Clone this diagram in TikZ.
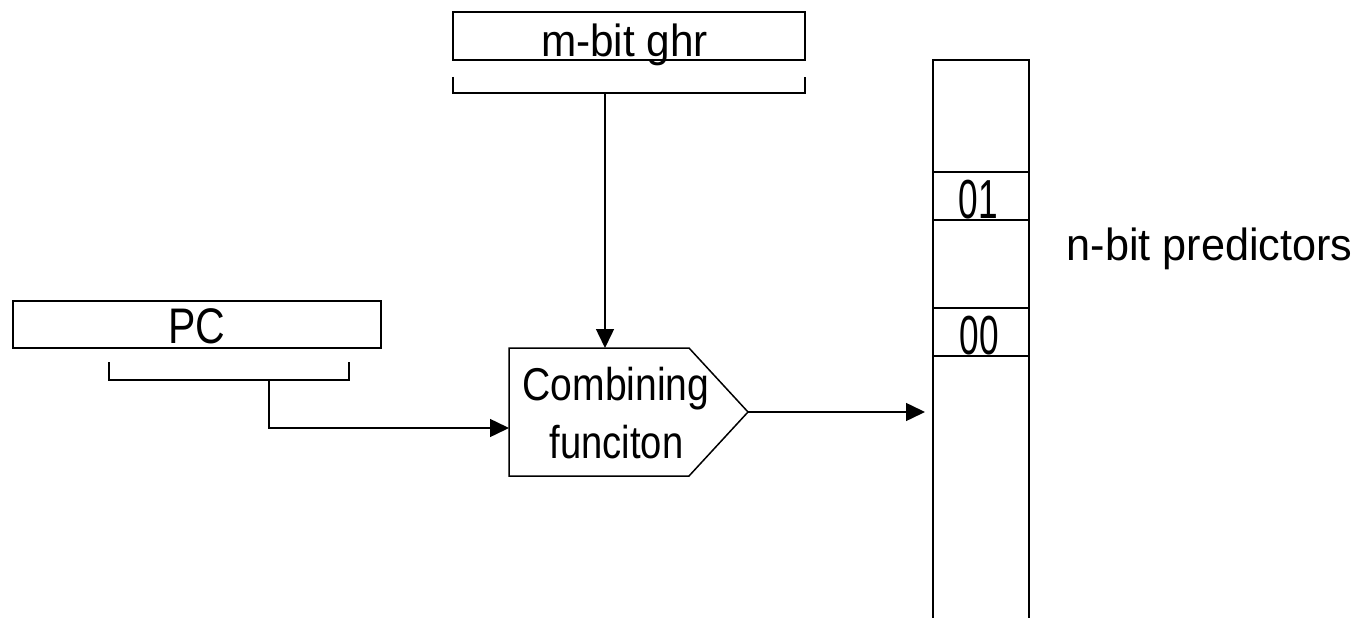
\documentclass[tikz,border=0pt]{standalone}
\usepackage{fontspec}
\setmainfont{Liberation Sans}
\usetikzlibrary{arrows.meta}
% size, horizontal squeeze, text
\newcommand{\lbl}[3]{\fontsize{#1}{#1}\selectfont\scalebox{#2}[1]{#3}}
\begin{document}
\begin{tikzpicture}[x=1pt,y=-1pt,line width=1.5pt,
  box/.style={draw,rectangle,inner sep=0pt},
  txt/.style={inner sep=0pt,anchor=base},
  arr/.style={-{Triangle[length=19pt,width=18pt]}}]
\useasboundingbox (0,0) rectangle (1358,618);

% global history register
\node[box,minimum width=352pt,minimum height=48pt] (ghr) at (629,36) {};
\node[txt] (ghrtxt) at (624.5,57) {\lbl{45}{0.94}{m-bit ghr}};
\coordinate (ghrL) at (453,77);
\coordinate (ghrR) at (805,77);
\coordinate (ghrS) at (605,93);
\draw (ghrL) |- (ghrR |- ghrS) -- (ghrR);

% program counter
\node[box,minimum width=368pt,minimum height=47pt] (pc) at (197,324.5) {};
\node[txt] (pctxt) at (196.5,343) {\lbl{50}{0.82}{PC}};
\coordinate (pcL) at (109,362);
\coordinate (pcR) at (349,362);
\coordinate (pcS) at (269,380);
\draw (pcL) |- (pcR |- pcS) -- (pcR);

% combining function
\coordinate (cTL) at (509,348);
\coordinate (cTR) at (689,348);
\coordinate (cOut) at (748,412);
\coordinate (cBR) at (689,476);
\coordinate (cBL) at (509,476);
\draw (cTL) -- (cTR) -- (cOut) -- (cBR) -- (cBL) -- cycle;
\node[txt] (comb1) at (616,400) {\lbl{46}{0.85}{Combining}};
\node[txt] (comb2) at (616.5,458) {\lbl{46}{0.83}{funciton}};
\coordinate (cIn) at (509,428);
\coordinate (cTop) at (605,348);

% predictor table
\coordinate (tTL) at (933,60);
\coordinate (tTR) at (1029,60);
\draw (tTL |- 0,618) -- (tTL) -- (tTR) -- (tTR |- 0,618);
\node[box,minimum width=96pt,minimum height=48pt] (c01) at (981,196) {};
\node[txt] (t01) at (978,218) {\lbl{55}{0.64}{01}};
\node[box,minimum width=96pt,minimum height=48pt] (c00) at (981,332) {};
\node[txt] (t00) at (979,354) {\lbl{55}{0.64}{00}};
\node[txt,anchor=base west] (pred) at (1066,260) {\lbl{45}{0.96}{n-bit predictors}};
\coordinate (tIn) at (925,412);

% connectors
\draw[arr] (ghrS) -- (cTop);
\draw[arr] (pcS) |- (cIn);
\draw[arr] (cOut) -- (tIn);
\end{tikzpicture}
\end{document}
